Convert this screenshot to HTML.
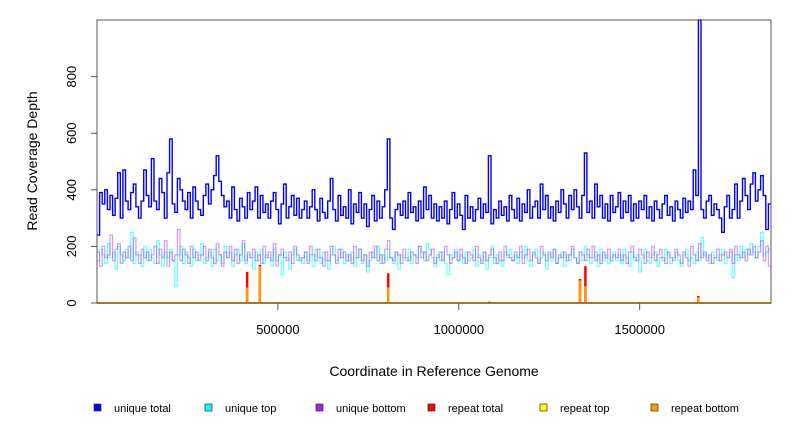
<!DOCTYPE html>
<html><head><meta charset="utf-8"><style>
body{margin:0;background:#fff;}
svg text{font-family:"Liberation Sans",sans-serif;fill:#000;}
</style></head><body>
<svg id="chart" width="792" height="432" xmlns="http://www.w3.org/2000/svg">
<g id="plot"></g>
<g id="axes"></g>
<g id="legend"></g>
</svg>
<script>
const xMax = 1863000;
const yTicks = [0,200,400,600,800];
const xTicks = [500000,1000000,1500000];
const xTickLabels = ["500000","1000000","1500000"];
const uniqueTotal = [240,390,350,400,330,380,310,370,460,300,470,360,330,390,420,340,300,360,470,380,
340,510,360,330,440,390,300,460,580,350,320,440,400,360,330,390,300,410,360,330,
310,380,420,350,400,450,520,430,380,340,360,300,410,330,290,370,340,300,390,330,
360,410,300,380,320,350,300,360,390,330,280,350,420,300,340,380,310,370,300,330,
360,300,340,400,330,290,370,320,300,360,440,330,290,380,310,340,300,400,280,350,
320,390,300,350,270,330,380,290,360,300,340,400,580,300,260,330,350,310,360,300,
390,320,340,290,360,300,410,330,380,300,350,290,340,300,360,280,330,390,300,350,
310,260,380,300,340,290,330,370,300,350,320,520,280,330,300,360,310,340,290,380,
330,300,370,290,350,320,400,300,340,360,300,420,330,380,300,340,290,360,320,400,
350,300,380,330,400,340,300,380,530,320,360,300,420,340,380,300,350,290,380,320,
340,390,300,360,320,380,290,350,300,360,330,380,300,340,290,360,330,300,350,380,
310,340,290,360,330,300,370,320,360,330,470,380,1000,330,300,360,380,310,350,330,
300,250,340,380,300,330,420,300,360,440,380,330,420,460,360,400,450,380,260,350];
const uniqueTop = [150,190,170,140,210,160,180,120,200,170,150,190,160,250,140,180,170,130,200,150,
190,160,140,220,170,130,180,160,190,150,60,170,200,140,180,160,130,190,150,170,
210,140,160,180,130,190,150,170,140,200,160,180,130,170,190,150,210,140,170,160,
120,180,150,190,140,170,160,130,190,150,170,100,180,160,120,170,190,150,160,140,
180,150,170,130,190,160,140,180,150,120,170,200,150,160,190,140,170,150,180,130,
160,190,140,170,110,150,180,160,200,140,170,150,190,160,140,180,120,170,160,150,
190,140,170,160,200,180,150,210,190,160,130,170,150,180,140,100,170,160,190,150,
170,140,180,150,160,190,130,170,150,180,120,160,200,140,170,150,130,180,160,190,
150,170,140,180,160,200,150,130,170,190,140,160,180,120,170,150,190,140,160,180,
130,170,150,190,160,140,180,150,200,170,140,160,180,130,190,150,170,140,160,180,
150,170,140,190,160,130,180,150,170,110,160,190,150,140,170,180,130,160,150,190,
170,140,160,180,150,130,170,190,150,160,140,180,150,230,170,160,140,180,160,150,
170,190,140,160,180,90,170,150,200,160,190,170,210,180,160,200,250,170,180,190];
const uniqueBottom = [180,130,200,160,170,240,150,190,210,140,180,160,200,150,230,170,140,190,160,180,
150,170,200,140,190,160,220,130,180,150,170,260,150,190,170,140,200,160,180,150,
170,200,150,190,160,140,210,170,130,180,160,200,150,190,140,170,220,150,180,160,
190,150,170,140,200,160,180,150,210,130,170,190,160,150,180,140,200,170,150,160,
180,140,200,170,150,190,160,130,180,150,200,170,140,190,160,180,150,170,140,200,
160,190,150,170,130,180,160,200,150,170,140,190,220,160,150,180,170,140,190,160,
150,180,170,140,200,160,180,150,170,190,140,160,180,150,200,170,140,160,180,150,
190,160,140,180,170,150,200,160,140,180,150,170,190,160,140,180,150,200,170,160,
150,180,160,200,140,170,190,150,180,160,140,200,170,150,180,160,190,140,170,160,
180,150,170,200,160,140,180,170,150,190,160,200,150,170,140,180,160,190,150,170,
160,190,150,170,140,180,200,160,150,190,170,140,180,160,200,150,170,190,160,140,
180,160,150,190,170,140,180,160,130,200,170,150,210,160,180,150,170,140,160,190,
150,170,180,160,190,140,200,170,160,180,150,190,170,200,160,180,220,150,200,130];
const repeatPos = [415000,450000,805000,1085000,1335000,1350000,1662000];
const repeatTotal = [110,135,105,5,85,130,25];
const repeatTop = [0,0,0,0,0,0,0];
const repeatBottom = [55,130,55,3,80,60,20];

const L=97,R=771,T=20,B=303,yMax=1000;
const sx=v=>L+(v/xMax)*(R-L);
const sy=v=>B-(Math.min(v,yMax)/yMax)*(B-T);
const NS="http://www.w3.org/2000/svg";
function mk(tag,attrs,parent){const e=document.createElementNS(NS,tag);for(const k in attrs)e.setAttribute(k,attrs[k]);parent.appendChild(e);return e;}
const plot=document.getElementById('plot'),axes=document.getElementById('axes'),legend=document.getElementById('legend');

function stepPath(arr){const w=xMax/arr.length;let d='';arr.forEach((v,i)=>{const x0=sx(i*w),x1=sx((i+1)*w),y=sy(v);d+=(i?'L':'M')+x0.toFixed(1)+','+y.toFixed(1)+'L'+x1.toFixed(1)+','+y.toFixed(1);});return d;}

let base=mk('line',{x1:L,x2:R,y1:B,y2:B,stroke:'#ff9900','stroke-width':2},plot);



let pt=mk('path',{d:stepPath(uniqueTop),fill:'none',stroke:'#00ffff','stroke-opacity':0.6,'stroke-width':1.2},plot);


let pb=mk('path',{d:stepPath(uniqueBottom),fill:'none',stroke:'#a020f0','stroke-opacity':0.45,'stroke-width':1.2},plot);


let ptot=mk('path',{d:stepPath(uniqueTotal),fill:'none',stroke:'#0000ff','stroke-width':1.4},plot);



repeatPos.forEach((p,i)=>{
  let a=mk('line',{x1:sx(p),x2:sx(p),y1:B,y2:sy(repeatTotal[i]),stroke:'#ff0000','stroke-width':2.5},plot);
  
  
  let c=mk('line',{x1:sx(p),x2:sx(p),y1:B,y2:sy(repeatTop[i]),stroke:'#ffff00','stroke-width':2.5},plot);
  
  
  let b=mk('line',{x1:sx(p),x2:sx(p),y1:B,y2:sy(repeatBottom[i]),stroke:'#ff9900','stroke-width':2.5},plot);
  
  
});

let box=mk('rect',{x:L,y:T,width:R-L,height:B-T,fill:'none',stroke:'#555','stroke-width':1},axes);


yTicks.forEach(v=>{
  let t=mk('line',{x1:L-6,x2:L,y1:sy(v),y2:sy(v),stroke:'#555'},axes);
  
  
  let tx=mk('text',{x:76,y:sy(v),'font-size':13,'text-anchor':'middle',transform:`rotate(-90 76 ${sy(v)})`},axes);
  tx.textContent=v;
  
  
});
xTicks.forEach((v,i)=>{
  let t=mk('line',{x1:sx(v),x2:sx(v),y1:B,y2:B+7,stroke:'#555'},axes);
  
  
  let tx=mk('text',{x:sx(v),y:334,'font-size':13,'text-anchor':'middle'},axes);
  tx.textContent=xTickLabels[i];
  
  
});
let xt=mk('text',{x:434,y:376,'font-size':14,'text-anchor':'middle'},axes);
xt.textContent='Coordinate in Reference Genome';


let yt=mk('text',{x:37,y:161,'font-size':14,'text-anchor':'middle',transform:'rotate(-90 37 161)'},axes);
yt.textContent='Read Coverage Depth';



const legNames=['unique total','unique top','unique bottom','repeat total','repeat top','repeat bottom'];
const legColors=['#0000ff','#00ffff','#a020f0','#ff0000','#ffff00','#ff9900'];
const legX=[94,205,316,428,540,651];
legNames.forEach((n,i)=>{
  let r=mk('rect',{x:legX[i],y:404,width:7,height:7,fill:legColors[i],stroke:'#333','stroke-width':0.7},legend);
  
  
  let t=mk('text',{x:legX[i]+20,y:412,'font-size':11},legend);
  t.textContent=n;
  
  
});
</script>
</body></html>
